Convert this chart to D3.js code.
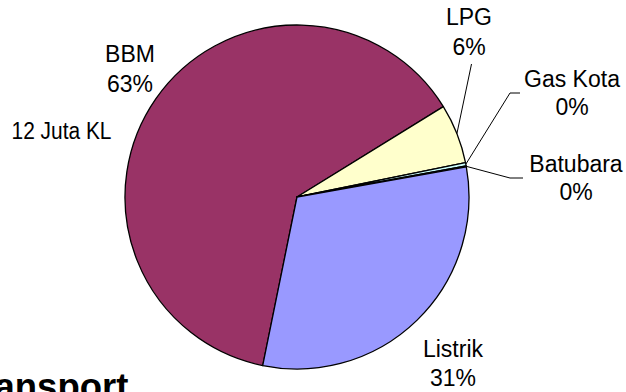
<!DOCTYPE html>
<html>
<head>
<meta charset="utf-8">
<script src="https://cdn.jsdelivr.net/npm/d3@7"></script>
<style>
  html, body { margin: 0; padding: 0; background: #fff; overflow: hidden; }
  svg { display: block; font-family: "Liberation Sans", Arial, sans-serif; }
</style>
</head>
<body>
<svg id="chart" width="626" height="392"></svg>
<script>
// Energy consumption share in the transport sector
const categories = ["BBM", "LPG", "Gas Kota", "Batubara", "Listrik"];
const shares = [63.0, 5.6, 0.3, 0.1, 31.0];
const shareLabels = ["63%", "6%", "0%", "0%", "31%"];
const colors = ["#993366", "#FFFFCC", "#CCFFFF", "#333399", "#9999FF"];
const noteText = "12 Juta KL";
const titleText = "Transport";

const svg = d3.select("#chart");
const cx = 297, cy = 197, radius = 172;
const rotation = -168.5 * Math.PI / 180;
const fontSize = 23;

const data = categories.map((c, i) => ({ name: c, value: shares[i], label: shareLabels[i], color: colors[i] }));

const pie = d3.pie().value(d => d.value).sort(null)
  .startAngle(rotation).endAngle(rotation + 2 * Math.PI);
const arcs = pie(data);
const arc = d3.arc().innerRadius(0).outerRadius(radius);

const g = svg.append("g").attr("transform", `translate(${cx},${cy})`);
g.selectAll("path.slice").data(arcs).enter().append("path")
  .attr("class", "slice")
  .attr("d", arc)
  .attr("fill", d => d.data.color)
  .attr("stroke", "#000")
  .attr("stroke-width", 1.3)
  .attr("stroke-linejoin", "round");

// label placement (page coordinates) and leader line elbows
const labelPos = {
  "BBM":      { x: 130, y: 62,  gap: 29.5 },
  "LPG":      { x: 469, y: 25,  gap: 30, leader: [[471.5, 64]] },
  "Gas Kota": { x: 572, y: 86.5, gap: 28.5, leader: [[510, 93], [520, 93]] },
  "Batubara": { x: 576, y: 171.5, gap: 28.5, leader: [[510, 178], [523, 178]] },
  "Listrik":  { x: 453, y: 357, gap: 29 }
};

arcs.forEach(a => {
  const p = labelPos[a.data.name];
  if (p.leader) {
    const mid = (a.startAngle + a.endAngle) / 2;
    const start = [cx + radius * Math.sin(mid), cy - radius * Math.cos(mid)];
    svg.append("path")
      .attr("d", d3.line()([start, ...p.leader]))
      .attr("fill", "none")
      .attr("stroke", "#000")
      .attr("stroke-width", 1);
  }
  const t = svg.append("text")
    .attr("text-anchor", "middle")
    .attr("font-size", fontSize)
    .attr("fill", "#000");
  t.append("tspan").attr("x", p.x).attr("y", p.y).text(a.data.name);
  t.append("tspan").attr("x", p.x).attr("y", p.y + p.gap).text(a.data.label);
});

svg.append("text")
  .attr("x", 61.5).attr("y", 139)
  .attr("text-anchor", "middle")
  .attr("font-size", fontSize)
  .attr("textLength", 100)
  .attr("lengthAdjust", "spacingAndGlyphs")
  .text(noteText);

// sector title, partly running off the bottom-left corner
svg.append("text")
  .attr("x", -40).attr("y", 399)
  .attr("font-size", 36.5)
  .attr("font-weight", "bold")
  .text(titleText);
</script>
</body>
</html>
